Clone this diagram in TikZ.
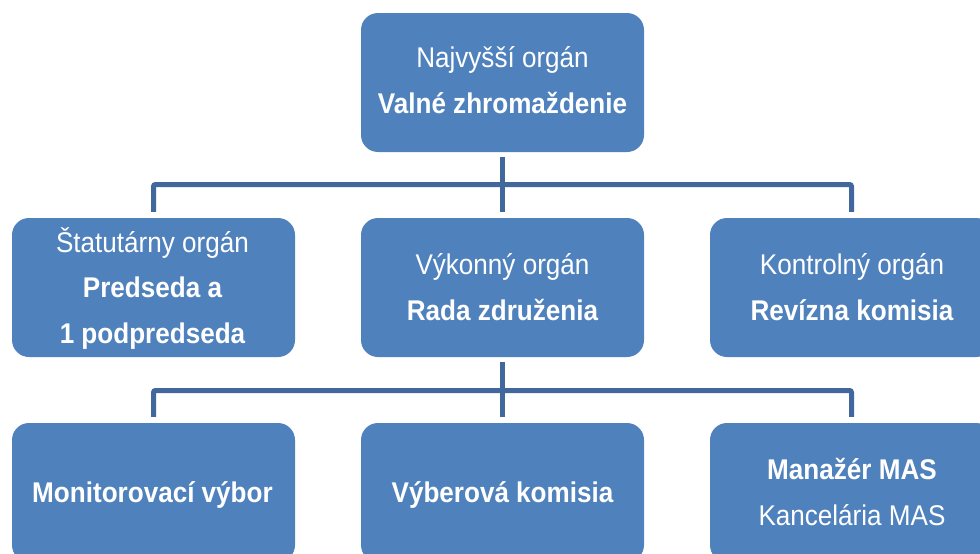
\documentclass[tikz,border=0pt]{standalone}
\usepackage{fontspec}
\setmainfont[FakeStretch=0.915]{Liberation Sans}
\definecolor{boxblue}{HTML}{4F81BD}
\definecolor{lineblue}{HTML}{41679C}
\begin{document}
\begin{tikzpicture}[x=1pt,y=-1pt,
  orgbox/.style={draw=none,fill=boxblue,rounded corners=17pt,minimum width=283pt,minimum height=139pt,inner sep=0pt},
  txt/.style={text=white,anchor=base,inner sep=0pt,font=\fontsize{28.5}{46}\selectfont},
  btxt/.style={txt,font=\fontsize{28.5}{46}\selectfont\bfseries},
  conn/.style={draw=lineblue,line width=5pt,rounded corners=2pt}]
\useasboundingbox (0,0) rectangle (980,554);
\clip (0,0) rectangle (980,554);
% boxes
\node[orgbox] (top) at (502.5,82.5) {};
\node[orgbox] (mL) at (153.5,287.5) {};
\node[orgbox] (mC) at (502.5,287.5) {};
\node[orgbox] (mR) at (851.5,287.5) {};
\node[orgbox] (bL) at (153.5,492.5) {};
\node[orgbox] (bC) at (502.5,492.5) {};
\node[orgbox] (bR) at (851.5,492.5) {};
% bus coordinates
\coordinate (busA) at (502.5,184.5);
\coordinate (busB) at (502.5,390.5);
% connectors upper
\draw[conn] ([yshift=-5pt]top.south) -- ([yshift=6pt]mC.north);
\draw[conn] ([yshift=6pt]mL.north) |- (mR.north |- busA) -- ([yshift=6pt]mR.north);
% connectors lower
\draw[conn] ([yshift=-5pt]mC.south) -- ([yshift=6pt]bC.north);
\draw[conn] ([yshift=6pt]bL.north) |- (bR.north |- busB) -- ([yshift=6pt]bR.north);
% texts
\node[txt] (t1) at (502.5,67) {Najvyšší orgán};
\node[btxt] (t2) at (502.5,113) {Valné zhromaždenie};
\node[txt] (l1) at (152.5,252) {Štatutárny orgán};
\node[btxt] (l2) at (152.5,297) {Predseda a};
\node[btxt] (l3) at (152.5,343) {1 podpredseda};
\node[txt] (c1) at (502.5,274) {Výkonný orgán};
\node[btxt] (c2) at (502.5,320) {Rada združenia};
\node[txt] (r1) at (852,274) {Kontrolný orgán};
\node[btxt] (r2) at (852,320) {Revízna komisia};
\node[btxt] (b1) at (152.5,502) {Monitorovací výbor};
\node[btxt] (b2) at (502.5,502) {Výberová komisia};
\node[btxt] (b3) at (852,479) {Manažér MAS};
\node[txt] (b4) at (852,525) {Kancelária MAS};
\end{tikzpicture}
\end{document}
